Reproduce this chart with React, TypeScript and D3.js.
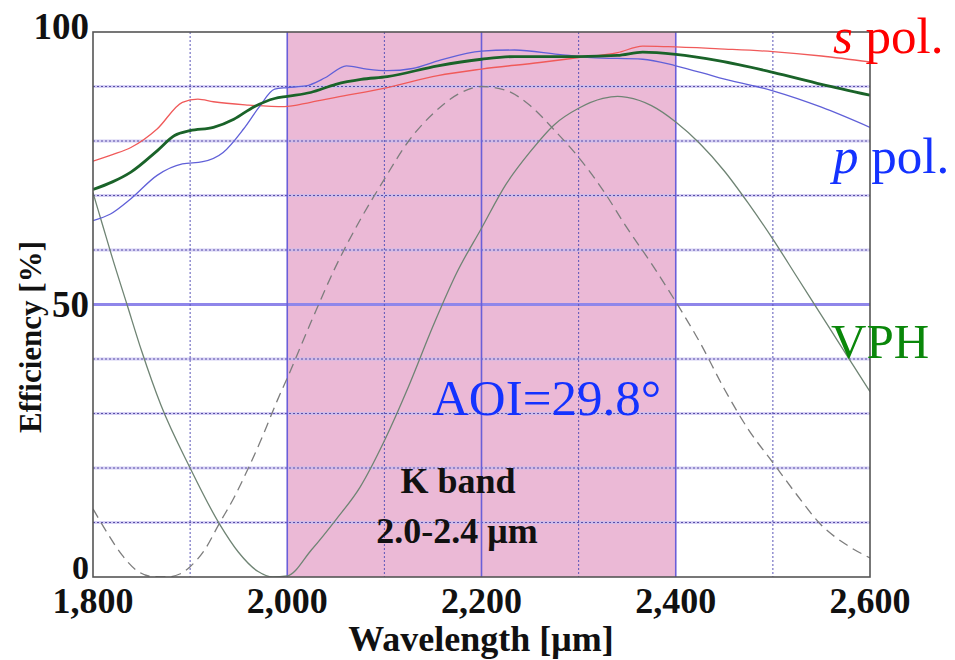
import React from "react";
import * as d3 from "d3";

// ---- data ----
const sPolWl = [1800, 1820, 1839, 1866, 1892, 1908, 1924, 1960, 1997, 2024, 2050, 2103, 2155, 2200, 2260, 2300, 2340, 2366, 2392, 2445, 2500, 2550, 2600];
const sPolVal = [76.3, 77.5, 78.8, 82.2, 87.1, 87.7, 87.2, 86.6, 86.3, 87.1, 88.0, 89.8, 92.0, 93.2, 94.4, 95.3, 96.2, 97.4, 97.3, 96.9, 96.4, 95.6, 94.5];

const vphWl = [1800, 1820, 1839, 1866, 1884, 1900, 1924, 1945, 1966, 1987, 2000, 2024, 2050, 2076, 2103, 2155, 2200, 2234, 2300, 2340, 2366, 2400, 2445, 2500, 2550, 2600];
const vphVal = [71.1, 72.5, 74.3, 78.2, 81.0, 81.9, 82.5, 84.0, 86.3, 87.8, 88.2, 88.9, 90.4, 91.3, 91.8, 93.8, 95.0, 95.5, 95.5, 95.7, 96.3, 95.9, 94.7, 92.6, 90.4, 88.4];

const pPolWl = [1800, 1818, 1839, 1866, 1892, 1913, 1934, 1955, 1971, 1987, 2000, 2019, 2039, 2061, 2082, 2103, 2129, 2155, 2200, 2234, 2279, 2313, 2366, 2400, 2445, 2500, 2550, 2600];
const pPolVal = [65.4, 66.6, 69.4, 73.7, 75.8, 76.2, 77.9, 82.2, 86.2, 89.5, 89.8, 90.1, 91.6, 93.8, 93.2, 92.9, 93.3, 94.7, 96.5, 96.7, 95.9, 95.3, 95.0, 93.8, 91.6, 89.2, 86.2, 82.5];

const firstWl = [1800, 1810, 1820, 1835, 1850, 1870, 1900, 1930, 1950, 1970, 1985, 2000, 2025, 2050, 2075, 2100, 2125, 2150, 2175, 2200, 2225, 2250, 2275, 2300, 2325, 2340, 2350, 2375, 2400, 2425, 2450, 2475, 2500, 2525, 2550, 2575, 2600];
const firstVal = [70.5, 64.5, 58.5, 50, 41.5, 31.5, 20, 9.8, 4.5, 1, 0, 0.2, 5, 10.5, 16.5, 25, 35, 46, 56, 64, 72, 78, 83, 86, 87.8, 88.2, 88, 86.5, 83.5, 79.5, 74.5, 68.5, 62, 55, 48, 41, 34];

const dashWl = [1800, 1815, 1830, 1845, 1860, 1875, 1890, 1900, 1915, 1930, 1945, 1960, 1975, 1990, 2000, 2025, 2050, 2075, 2100, 2125, 2150, 2175, 2200, 2225, 2250, 2275, 2300, 2325, 2350, 2375, 2400, 2425, 2450, 2475, 2500, 2525, 2550, 2575, 2600];
const dashVal = [12.5, 8, 4, 1.2, 0.1, 0, 0.6, 1.9, 5, 9.8, 14.5, 20, 26, 32.5, 36.5, 47, 57, 65.5, 73, 80, 85, 88.5, 90, 89.3, 86.5, 82, 77, 71, 64, 57.5, 50.5, 43, 34.5, 27, 21, 15, 9.5, 6, 3.5];

const xTicks = [1800, 2000, 2200, 2400, 2600];
const xTickLabels = ["1,800", "2,000", "2,200", "2,400", "2,600"];
const xMinor = [1900, 2100, 2300, 2500];
const yTicks = [0, 50, 100];
const yTickLabels = ["0", "50", "100"];
const yMinor = [10, 20, 30, 40, 60, 70, 80, 90];
const band = [2000, 2400];

export default function App() {
  const L = 93, R = 870, T = 32, B = 577;
  const x = d3.scaleLinear().domain([1800, 2600]).range([L, R]);
  const y = d3.scaleLinear().domain([0, 100]).range([B, T]);
  const mk = (wl: number[], v: number[], curve: any) =>
    d3.line<number>().x((_, i) => x(wl[i])).y((d) => y(d)).curve(curve)(v) || "";
  const serif = "'Liberation Serif', 'Times New Roman', serif";

  return (
    <svg width={955} height={660} style={{ position: "absolute", left: 0, top: 0, background: "#fff" }} fontFamily={serif}>
      <defs>
        <clipPath id="plot">
          <rect x={L} y={T} width={R - L} height={B - T} />
        </clipPath>
      </defs>
      <rect x={0} y={0} width={955} height={660} fill="#fff" />
      {/* K band shading */}
      <rect x={x(band[0])} y={T} width={x(band[1]) - x(band[0])} height={B - T} fill="#ebb9d6" />
      {/* horizontal minor grid */}
      {yMinor.map((v) => (
        <g key={"ym" + v}>
          <line x1={L} x2={R} y1={y(v)} y2={y(v)} stroke="#c4bdf0" strokeWidth={3} opacity={0.7} />
          <line x1={L} x2={R} y1={y(v)} y2={y(v)} stroke="#5a4fa8" strokeWidth={1} strokeDasharray="2,2" />
        </g>
      ))}
      {/* 50% line */}
      <line x1={L} x2={R} y1={y(50)} y2={y(50)} stroke="#8f86ea" strokeWidth={3} />
      {/* vertical minor grid */}
      {xMinor.map((v) => (
        <line key={"xm" + v} x1={x(v)} x2={x(v)} y1={T} y2={B} stroke="#5a55b8" strokeWidth={1} strokeDasharray="2,2" />
      ))}
      {/* vertical major grid */}
      {xTicks.slice(1, -1).map((v) => (
        <line key={"xM" + v} x1={x(v)} x2={x(v)} y1={T} y2={B} stroke="#6a5fd8" strokeWidth={1.6} />
      ))}
      {/* curves */}
      <g clipPath="url(#plot)" fill="none">
        <path d={mk(dashWl, dashVal, d3.curveMonotoneX)} stroke="#7d7d7d" strokeWidth={1.3} strokeDasharray="10,6" />
        <path d={mk(firstWl, firstVal, d3.curveMonotoneX)} stroke="#6f8474" strokeWidth={1.3} />
        <path d={mk(sPolWl, sPolVal, d3.curveMonotoneX)} stroke="#f05a5a" strokeWidth={1.3} />
        <path d={mk(pPolWl, pPolVal, d3.curveMonotoneX)} stroke="#6060d8" strokeWidth={1.3} />
        <path d={mk(vphWl, vphVal, d3.curveMonotoneX)} stroke="#1a6329" strokeWidth={2.8} />
      </g>
      {/* frame */}
      <rect x={L} y={T} width={R - L} height={B - T} fill="none" stroke="#555" strokeWidth={1.6} />
      {/* y tick labels */}
      {yTicks.map((v, i) => (
        <text key={"yt" + v} x={L - 4} y={y(v)} dy={v === 100 ? "0.2em" : v === 0 ? "0.06em" : "0.35em"} textAnchor="end" fontSize={v === 0 ? 34 : 37} fontWeight="bold" fill="#111">
          {yTickLabels[i]}
        </text>
      ))}
      {/* x tick labels */}
      {xTicks.map((v, i) => (
        <text key={"xt" + v} x={x(v)} y={613} textAnchor="middle" fontSize={36} fontWeight="bold" fill="#111">
          {xTickLabels[i]}
        </text>
      ))}
      {/* axis titles */}
      <text x={481} y={651} textAnchor="middle" fontSize={36} fontWeight="bold" fill="#111">Wavelength [μm]</text>
      <text transform="translate(41,337) rotate(-90)" textAnchor="middle" fontSize={31} fontWeight="bold" fill="#111">Efficiency [%]</text>
      {/* annotations */}
      <text x={833} y={53} fontSize={51} fill="#ff0000">
        <tspan fontStyle="italic">s</tspan> pol.
      </text>
      <text x={833} y={173} fontSize={51} fill="#1432ff">
        <tspan fontStyle="italic">p</tspan> pol.
      </text>
      <text x={831} y={358} fontSize={49} fill="#0a870a">VPH</text>
      <text x={432} y={415} fontSize={51} fill="#1432ff">AOI=29.8°</text>
      <text x={458} y={493} textAnchor="middle" fontSize={36} fontWeight="bold" fill="#111">K band</text>
      <text x={457} y={543} textAnchor="middle" fontSize={36} fontWeight="bold" fill="#111">2.0-2.4 μm</text>
    </svg>
  );
}
